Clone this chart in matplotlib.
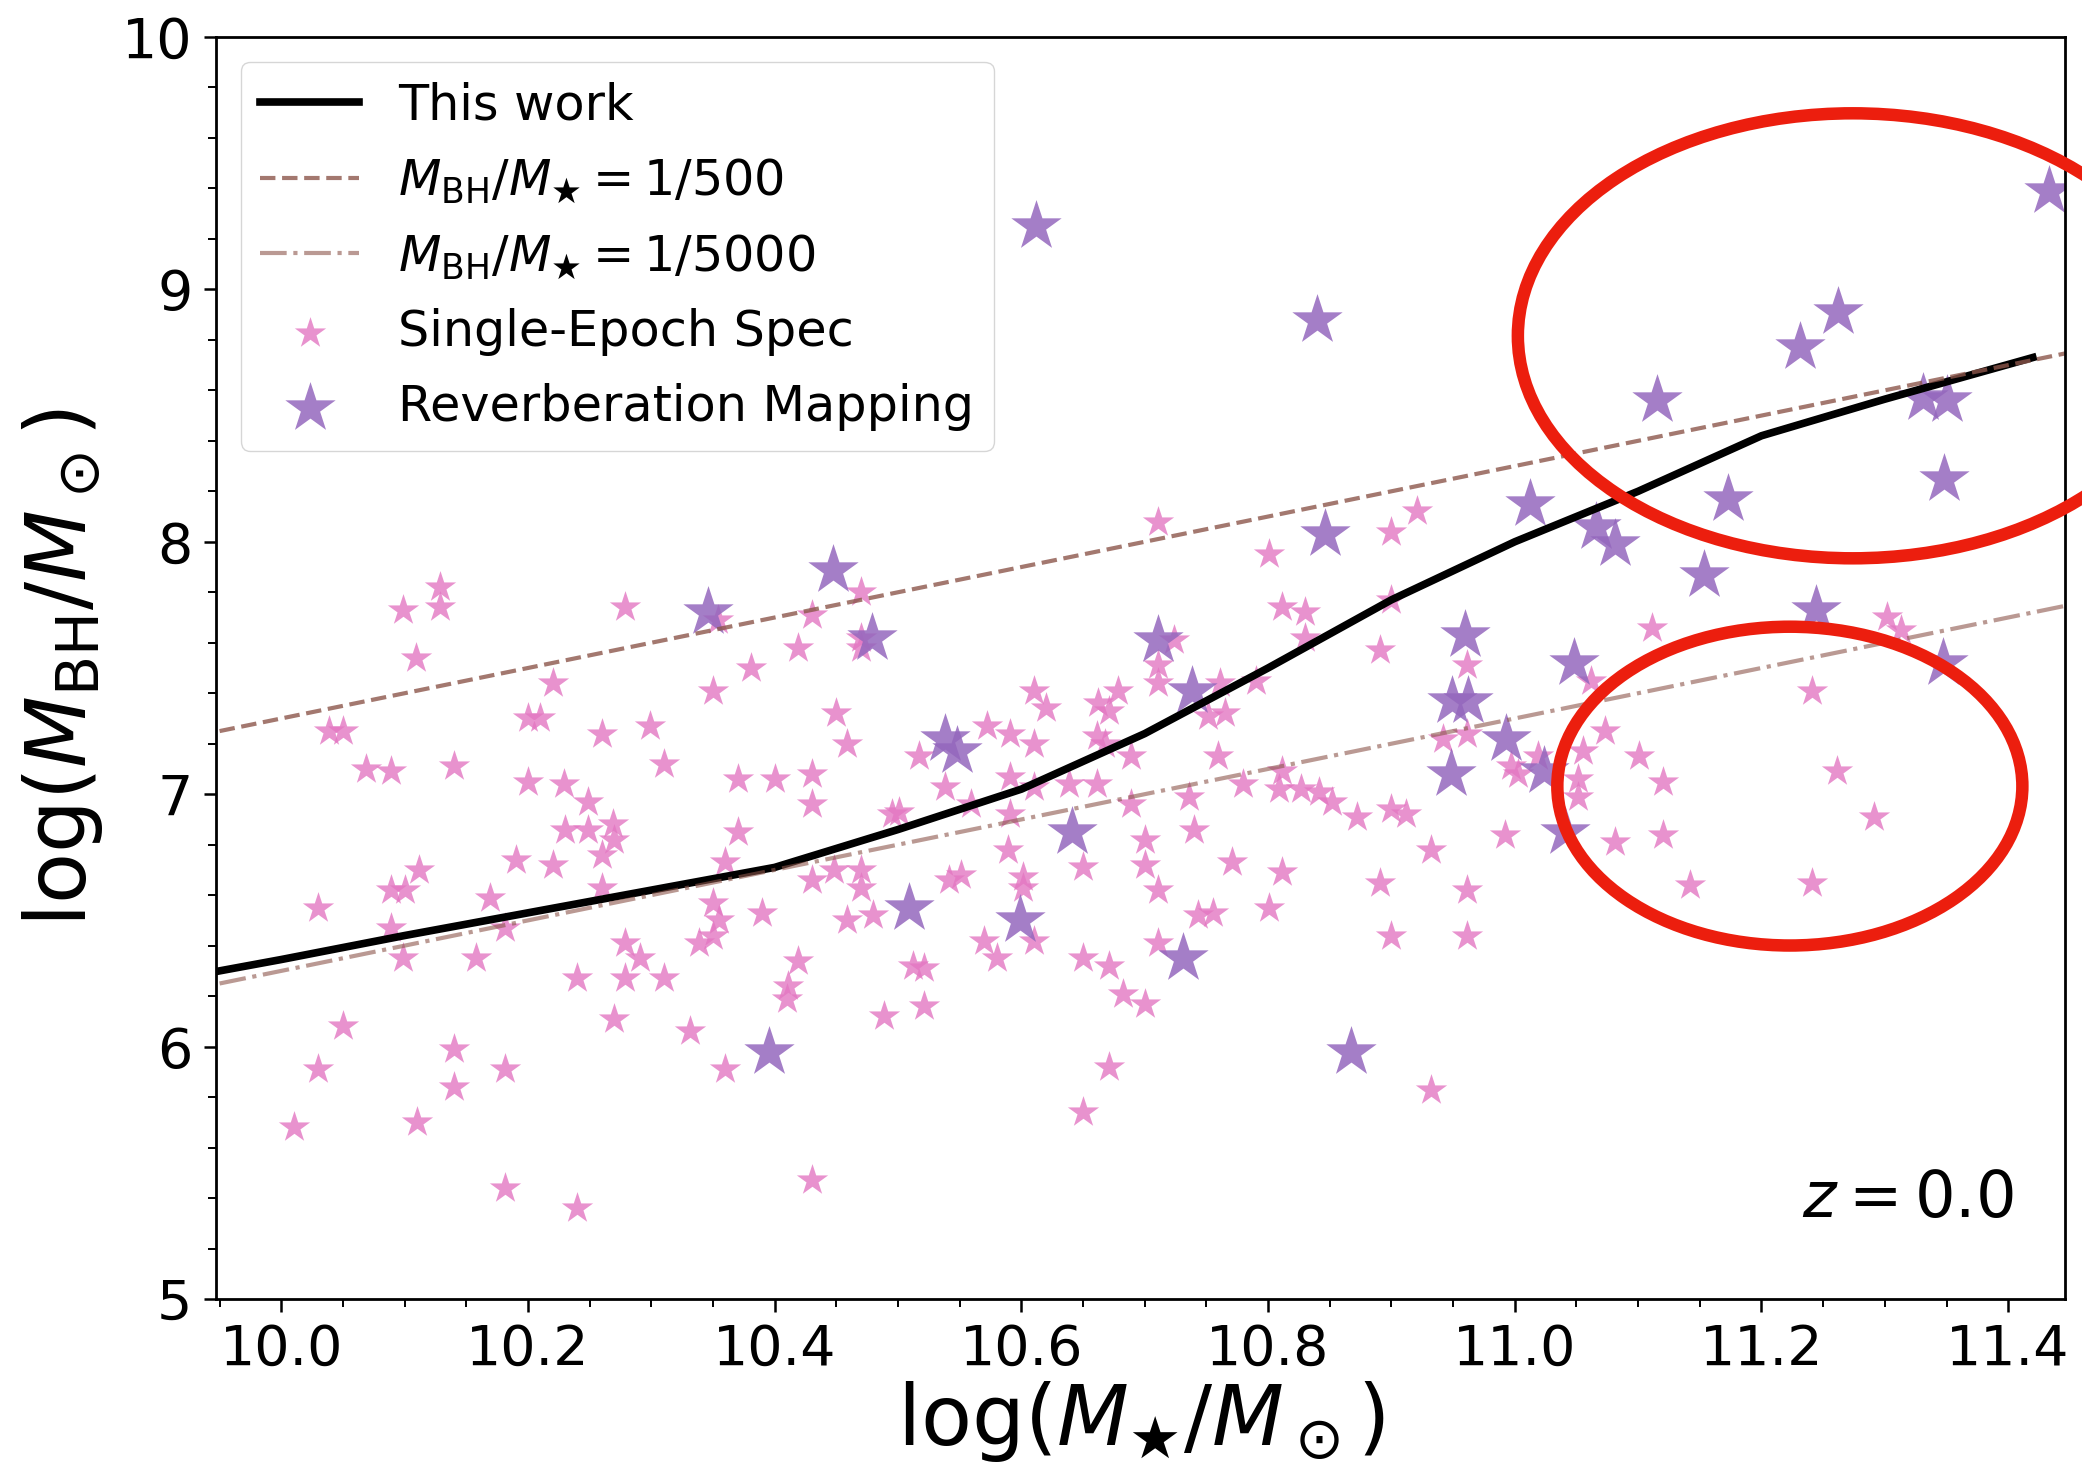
import matplotlib
matplotlib.use("Agg")
import matplotlib.pyplot as plt
from matplotlib.patches import Ellipse
from matplotlib.ticker import MultipleLocator

# ── data ──────────────────────────────────────────────────────────────────────
# model curve "This work"
work_x = [9.95, 10.0, 10.1, 10.2, 10.3, 10.4, 10.5, 10.6, 10.7, 10.8,
          10.9, 11.0, 11.1, 11.2, 11.3, 11.42]
work_y = [6.30, 6.345, 6.44, 6.53, 6.62, 6.71, 6.86, 7.02, 7.24, 7.50,
          7.77, 8.00, 8.20, 8.42, 8.565, 8.73]

# constant-ratio reference lines (end points)
ratio_x = [9.95, 11.45]
ratio500_y = [7.25, 8.75]
ratio5000_y = [6.25, 7.75]

# single-epoch spectroscopy sample
se_x = [10.129, 10.129, 10.099, 10.109, 10.039, 10.050, 10.069, 10.089, 10.140, 10.279,
        10.220, 10.200, 10.210, 10.260, 10.299, 10.310, 10.200, 10.229, 10.249, 10.230,
        10.249, 10.269, 10.270, 10.260, 10.350, 10.381, 10.430, 10.419, 10.470, 10.470,
        10.470, 10.354, 10.450, 10.459, 10.370, 10.400, 10.430, 10.430, 10.370, 10.495,
        10.190, 10.220, 10.260, 10.360, 10.030, 10.089, 10.100, 10.112, 10.169, 10.089,
        10.099, 10.158, 10.181, 10.350, 10.355, 10.350, 10.339, 10.390, 10.430, 10.448,
        10.470, 10.470, 10.459, 10.480, 10.279, 10.291, 10.279, 10.240, 10.310, 10.419,
        10.411, 10.410, 10.489, 10.050, 10.030, 10.010, 10.140, 10.140, 10.181, 10.110,
        10.270, 10.331, 10.360, 10.181, 10.240, 10.430, 10.711, 10.801, 10.900, 10.921,
        10.811, 10.830, 10.830, 10.900, 10.891, 10.724, 10.711, 10.711, 10.610, 10.620,
        10.662, 10.678, 10.671, 10.761, 10.790, 10.572, 10.591, 10.610, 10.661, 10.668,
        10.751, 10.765, 10.517, 10.689, 10.759, 10.591, 10.610, 10.639, 10.661, 10.538,
        10.501, 10.559, 10.591, 10.689, 10.736, 10.740, 10.780, 10.811, 10.809, 10.827,
        10.841, 10.852, 10.872, 10.900, 10.912, 10.992, 10.961, 10.942, 10.961, 10.997,
        11.019, 10.541, 10.551, 10.589, 10.601, 10.601, 10.650, 10.700, 10.700, 10.711,
        10.771, 10.811, 10.891, 10.961, 10.900, 10.961, 10.570, 10.580, 10.610, 10.512,
        10.521, 10.521, 10.650, 10.671, 10.682, 10.700, 10.711, 10.743, 10.755, 10.801,
        10.671, 10.650, 10.932, 10.932, 11.111, 11.302, 11.313, 11.062, 11.241, 11.073,
        11.055, 11.051, 11.051, 11.101, 11.120, 11.120, 11.081, 11.142, 11.003, 11.261,
        11.291, 11.241]
se_y = [7.82, 7.74, 7.73, 7.54, 7.25, 7.25, 7.10, 7.09, 7.11, 7.74,
        7.44, 7.30, 7.30, 7.24, 7.27, 7.12, 7.05, 7.04, 6.97, 6.86,
        6.86, 6.88, 6.82, 6.76, 7.41, 7.50, 7.71, 7.58, 7.80, 7.62,
        7.58, 7.69, 7.32, 7.20, 7.06, 7.06, 7.08, 6.96, 6.85, 6.92,
        6.74, 6.72, 6.63, 6.73, 6.55, 6.62, 6.62, 6.70, 6.59, 6.47,
        6.35, 6.35, 6.47, 6.57, 6.50, 6.44, 6.41, 6.53, 6.66, 6.70,
        6.70, 6.63, 6.50, 6.52, 6.41, 6.35, 6.27, 6.27, 6.27, 6.34,
        6.24, 6.19, 6.12, 6.08, 5.91, 5.68, 5.99, 5.84, 5.91, 5.70,
        6.11, 6.06, 5.91, 5.44, 5.36, 5.47, 8.08, 7.95, 8.04, 8.12,
        7.74, 7.72, 7.62, 7.77, 7.57, 7.61, 7.51, 7.44, 7.41, 7.34,
        7.36, 7.41, 7.33, 7.44, 7.45, 7.27, 7.24, 7.20, 7.23, 7.20,
        7.31, 7.32, 7.15, 7.15, 7.15, 7.07, 7.03, 7.04, 7.04, 7.03,
        6.93, 6.96, 6.92, 6.96, 6.99, 6.86, 7.04, 7.09, 7.02, 7.02,
        7.01, 6.97, 6.91, 6.94, 6.92, 6.84, 7.51, 7.22, 7.24, 7.11,
        7.15, 6.66, 6.68, 6.78, 6.67, 6.63, 6.71, 6.82, 6.72, 6.62,
        6.73, 6.69, 6.65, 6.62, 6.44, 6.44, 6.42, 6.35, 6.42, 6.32,
        6.31, 6.16, 6.35, 6.32, 6.21, 6.17, 6.41, 6.52, 6.53, 6.55,
        5.92, 5.74, 5.83, 6.78, 7.66, 7.70, 7.65, 7.45, 7.41, 7.25,
        7.17, 7.06, 6.99, 7.15, 7.05, 6.84, 6.81, 6.64, 7.08, 7.09,
        6.91, 6.65]

# reverberation-mapping sample
rm_x = [10.612, 10.840, 11.433, 11.262, 11.231, 11.115, 11.331, 11.350, 11.348, 11.173,
        11.012, 10.846, 11.066, 11.081, 11.153, 10.447, 10.346, 10.479, 10.711, 10.960,
        11.244, 11.048, 11.347, 10.738, 10.949, 10.962, 10.538, 10.548, 10.993, 10.948,
        11.024, 11.041, 10.641, 10.509, 10.599, 10.731, 10.395, 10.867]
rm_y = [9.25, 8.88, 9.39, 8.91, 8.77, 8.56, 8.57, 8.56, 8.25, 8.17,
        8.15, 8.03, 8.06, 7.99, 7.87, 7.89, 7.72, 7.62, 7.61, 7.63,
        7.73, 7.52, 7.52, 7.41, 7.37, 7.37, 7.22, 7.17, 7.22, 7.08,
        7.09, 6.85, 6.85, 6.55, 6.50, 6.35, 5.98, 5.98]

# ── figure ────────────────────────────────────────────────────────────────────
fig = plt.figure(figsize=(20.82, 14.78), dpi=100)
ax = fig.add_axes([0.1037, 0.1211, 0.8881, 0.8539])

h_se = ax.scatter(se_x, se_y, marker="*", s=560, color="#e377c2", alpha=0.8,
                  linewidths=0, label="Single-Epoch Spec")
h_rm = ax.scatter(rm_x, rm_y, marker="*", s=1450, color="#9467bd", alpha=0.85,
                  linewidths=0, label="Reverberation Mapping")

h_work, = ax.plot(work_x, work_y, color="black", lw=5.5, label="This work")
h_500, = ax.plot(ratio_x, ratio500_y, color="#8c564b", alpha=0.8, lw=3, ls="--",
                 label=r"$M_{\rm BH}/M_\bigstar = 1/500$")
h_5000, = ax.plot(ratio_x, ratio5000_y, color="#8c564b", alpha=0.6, lw=3, ls="-.",
                  label=r"$M_{\rm BH}/M_\bigstar = 1/5000$")

ax.set_xlim(9.947, 11.446)
ax.set_ylim(5, 10)
ax.xaxis.set_major_locator(MultipleLocator(0.2))
ax.xaxis.set_minor_locator(MultipleLocator(0.05))
ax.yaxis.set_major_locator(MultipleLocator(1))
ax.yaxis.set_minor_locator(MultipleLocator(0.2))
ax.tick_params(which="major", length=9, width=1.8, labelsize=40, pad=8)
ax.tick_params(which="minor", length=5.5, width=1.4)
for sp in ax.spines.values():
    sp.set_linewidth(2)

ax.set_xlabel(r"$\log(M_\bigstar/M_\odot)$", fontsize=60, labelpad=2)
ax.set_ylabel(r"$\log(M_{\rm BH}/M_\odot)$", fontsize=60, labelpad=12)

ax.text(0.972, 0.055, r"$z = 0.0$", transform=ax.transAxes,
        ha="right", va="bottom", fontsize=46)

ax.legend(handles=[h_work, h_500, h_5000, h_se, h_rm],
          loc="upper left", fontsize=35.5, scatterpoints=1,
          borderaxespad=0.5, handlelength=2.0, labelspacing=0.55)

# red highlight ellipses
ax.add_patch(Ellipse((11.274, 8.816), 0.543, 1.763, fill=False,
                     edgecolor="#ec1e0e", lw=9, clip_on=False, zorder=5))
ax.add_patch(Ellipse((11.223, 7.032), 0.377, 1.263, fill=False,
                     edgecolor="#ec1e0e", lw=9, clip_on=False, zorder=5))

fig.savefig("out.png", dpi=100)
